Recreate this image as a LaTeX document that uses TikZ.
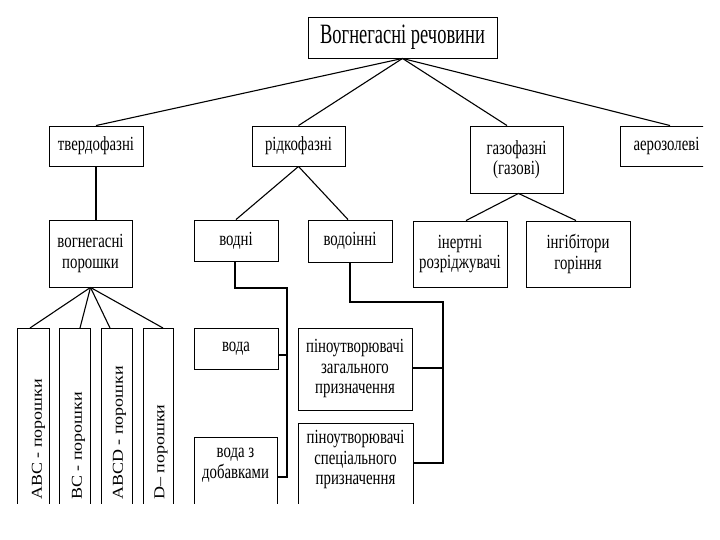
\documentclass[tikz,border=0pt]{standalone}
\usepackage{graphicx}
\usepackage{fontspec}
\setmainfont[FakeStretch=0.74]{Liberation Serif}
\newfontfamily\titlefont[FakeStretch=0.66]{Liberation Serif}
\newfontfamily\vertfont{Liberation Serif}
\usetikzlibrary{calc}
\begin{document}
\begin{tikzpicture}[x=1pt,y=-1pt,
  box/.style={draw, line width=0.9pt, inner sep=0pt, align=center,
    font=\fontsize{20}{20.5}\selectfont},
  plainbox/.style={draw, line width=0.9pt, inner sep=0pt, anchor=north},
  txt/.style={inner sep=0pt, align=center, font=\fontsize{20}{20.5}\selectfont},
  conn/.style={line width=1.1pt},
  vlab/.style={rotate=90, anchor=west, inner sep=0pt,
    font=\vertfont\fontsize{18}{18}\selectfont}]
\useasboundingbox (0,0) rectangle (720,540);
\begin{scope}
\clip (0,0) rectangle (703,503);
% level 0
\node[box, minimum width=189pt, minimum height=41pt,
  font=\titlefont\fontsize{28}{30}\selectfont] (top) at (402.5,37.5) {Вогнегасні речовини};
% level 1
\node[box, minimum width=94pt, minimum height=40pt] (tverd) at (96,146) {твердофазні};
\node[box, minimum width=93pt, minimum height=40pt] (ridko) at (298.5,146) {рідкофазні};
\node[box, minimum width=93pt, minimum height=67pt] (gazo) at (516.5,159.5) {газофазні\\(газові)};
\node[box, minimum width=93pt, minimum height=40pt] (aero) at (666.5,146) {аерозолеві};
% level 2
\node[box, minimum width=83pt, minimum height=67pt] (porosh) at (90.5,253.5) {вогнегасні\\порошки};
\node[box, minimum width=84pt, minimum height=41pt] (vodni) at (236,240.5) {водні};
\node[box, minimum width=84pt, minimum height=42pt] (vodoinni) at (350,241) {водоінні};
\node[box, minimum width=94pt, minimum height=66pt] (inertni) at (460,254) {інертні\\розріджувачі};
\node[box, minimum width=104pt, minimum height=66pt] (ingib) at (578,254) {інгібітори\\горіння};
% level 3
\node[box, minimum width=84pt, minimum height=41pt] (voda) at (236,348.5) {вода};
\node[plainbox, minimum width=83pt, minimum height=100pt] (vodaz) at (235.5,437) {};
\node[txt] (vodaz-t) at (235.5,465) {вода з\\добавками};
\node[box, minimum width=114pt, minimum height=82pt] (pinozag) at (355,369) {піноутворювачі\\загального\\призначення};
\node[plainbox, minimum width=115pt, minimum height=100pt] (pinospec) at (355.5,423) {};
\node[txt] (pinospec-t) at (355.5,460) {піноутворювачі\\спеціального\\призначення};
% powder boxes
\node[plainbox, minimum width=32pt, minimum height=200pt] (v1) at (33,328) {};
\node[plainbox, minimum width=31pt, minimum height=200pt] (v2) at (74.5,328) {};
\node[plainbox, minimum width=31pt, minimum height=200pt] (v3) at (116.5,328) {};
\node[plainbox, minimum width=30pt, minimum height=200pt] (v4) at (158,328) {};
\node[vlab] (t1) at (38.5,500) {\scalebox{1}[0.84]{ABC - порошки}};
\node[vlab] (t2) at (78.5,500) {\scalebox{1}[0.84]{BC - порошки}};
\node[vlab] (t3) at (119.5,500) {\scalebox{1}[0.84]{ABCD - порошки}};
\node[vlab] (t4) at (161,500) {\scalebox{1}[0.84]{D– порошки}};
% connectors from top
\draw[conn] (top.south) -- (tverd.north);
\draw[conn] (top.south) -- (ridko.north);
\draw[conn] (top.south) -- ([xshift=-9.5pt]gazo.north);
\draw[conn] (top.south) -- ([xshift=3.5pt]aero.north);
% tverdofazni
\draw[conn] (tverd.south) -- (tverd.south |- porosh.north);
\draw[conn] (porosh.south) -- ([xshift=-3pt]v1.north);
\draw[conn] (porosh.south) -- ([xshift=5.5pt]v2.north);
\draw[conn] (porosh.south) -- ([xshift=-6.5pt]v3.north);
\draw[conn] (porosh.south) -- ([xshift=5pt]v4.north);
% ridkofazni
\draw[conn] (ridko.south) -- (vodni.north);
\draw[conn] (ridko.south) -- ([xshift=-2pt]vodoinni.north);
% gazofazni
\draw[conn] ([xshift=2pt]gazo.south) -- ([xshift=6pt]inertni.north);
\draw[conn] ([xshift=2pt]gazo.south) -- ([xshift=-2pt]ingib.north);
% vodni bus
\coordinate (b1top) at (287,288);
\coordinate (b1mid) at (287,355);
\coordinate (b1bot) at (287,477);
\draw[conn] ([xshift=-1pt]vodni.south) |- (b1top) -- (b1bot) -- (b1bot -| vodaz.east);
\draw[conn] (b1mid) -- (b1mid -| voda.east);
% vodoinni bus
\coordinate (b2top) at (443,302);
\coordinate (b2mid) at (443,368);
\coordinate (b2bot) at (443,463);
\draw[conn] (vodoinni.south) |- (b2top) -- (b2bot) -- (b2bot -| pinospec.east);
\draw[conn] (b2mid) -- (b2mid -| pinozag.east);
\end{scope}
\end{tikzpicture}
\end{document}
